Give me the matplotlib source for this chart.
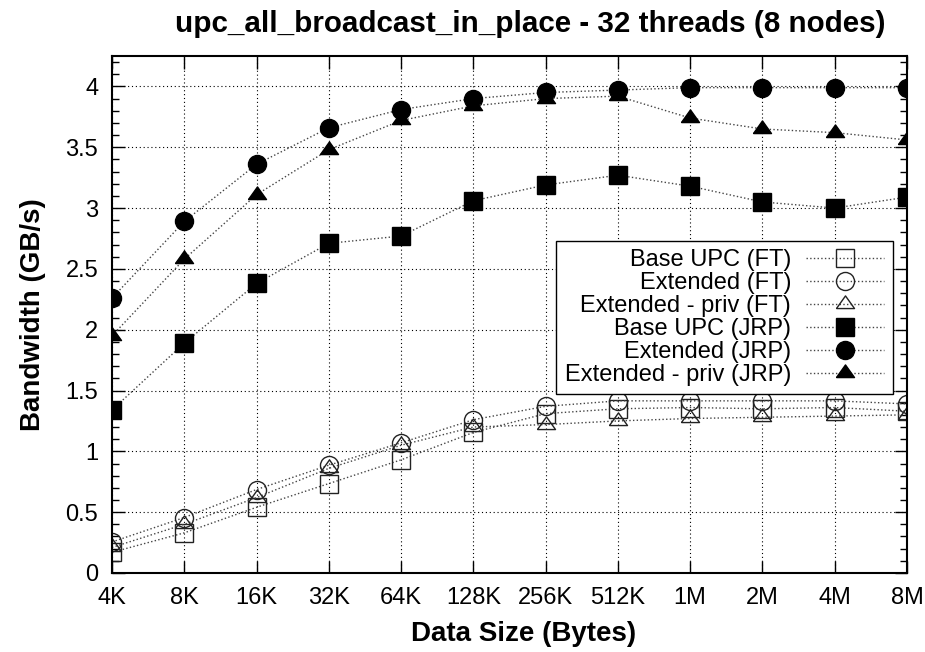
import matplotlib
matplotlib.use("Agg")
import matplotlib.pyplot as plt
import numpy as np
from matplotlib.ticker import MultipleLocator

plt.rcParams['font.family'] = ['Liberation Sans', 'DejaVu Sans']

sizes = ["4K", "8K", "16K", "32K", "64K", "128K", "256K", "512K", "1M", "2M", "4M", "8M"]

base_ft = [0.17, 0.33, 0.54, 0.735, 0.93, 1.155, 1.31, 1.35, 1.36, 1.35, 1.36, 1.33]
ext_ft = [0.255, 0.456, 0.686, 0.886, 1.07, 1.26, 1.37, 1.415, 1.415, 1.415, 1.415, 1.39]
priv_ft = [0.21, 0.40, 0.62, 0.86, 1.05, 1.20, 1.22, 1.25, 1.27, 1.28, 1.29, 1.30]

base_jrp = [1.34, 1.89, 2.38, 2.71, 2.77, 3.06, 3.19, 3.27, 3.18, 3.05, 3.00, 3.09]
ext_jrp = [2.26, 2.89, 3.36, 3.66, 3.81, 3.90, 3.95, 3.97, 3.99, 3.99, 3.99, 3.99]
priv_jrp = [1.95, 2.58, 3.11, 3.48, 3.72, 3.84, 3.90, 3.92, 3.74, 3.65, 3.62, 3.56]

labels = ["Base UPC (FT)", "Extended (FT)", "Extended - priv (FT)",
          "Base UPC (JRP)", "Extended (JRP)", "Extended - priv (JRP)"]

x = np.arange(len(sizes))

# flat, wide triangle marker (centred on the data point)
tri = [(-1, -0.45), (1, -0.45), (0, 0.95), (-1, -0.45)]

fig = plt.figure(figsize=(9.25, 6.52), dpi=100)
ax = fig.add_axes([0.1211, 0.1212, 0.8594, 0.7929])

line_kw = dict(linestyle=':', linewidth=1.0, color='#444444')
open_kw = dict(markerfacecolor='none', markeredgecolor='#222222', markeredgewidth=1.0)
fill_kw = dict(markerfacecolor='black', markeredgecolor='black', markeredgewidth=1.0)

ax.plot(x, base_ft, marker='s', markersize=13, label=labels[0], **open_kw, **line_kw)
ax.plot(x, ext_ft, marker='o', markersize=13, label=labels[1], **open_kw, **line_kw)
ax.plot(x, priv_ft, marker=tri, markersize=13, label=labels[2], **open_kw, **line_kw)
ax.plot(x, base_jrp, marker='s', markersize=13, label=labels[3], **fill_kw, **line_kw)
ax.plot(x, ext_jrp, marker='o', markersize=13, label=labels[4], **fill_kw, **line_kw)
ax.plot(x, priv_jrp, marker=tri, markersize=13, label=labels[5], **fill_kw, **line_kw)

ax.set_xlim(0, len(sizes) - 1)
ax.set_ylim(0, 4.25)
ax.set_xticks(x)
ax.set_xticklabels(sizes)
ax.yaxis.set_minor_locator(MultipleLocator(0.1))
yt = np.arange(0, 4.01, 0.5)
ax.set_yticks(yt)
ax.set_yticklabels([f"{v:g}" for v in yt])

ax.tick_params(axis='both', which='both', direction='in', top=True, right=True,
               labelsize=17)
ax.tick_params(axis='x', which='major', pad=10)
ax.tick_params(axis='y', which='major', pad=10)
ax.tick_params(axis='both', which='major', length=9, width=1)
ax.tick_params(axis='y', which='minor', length=5, width=1)
ax.tick_params(axis='x', which='minor', length=0)

ax.grid(True, which='major', linestyle=(0, (1, 2.5)), color='black', linewidth=0.8)
for s in ax.spines.values():
    s.set_linewidth(1.5)

ax.set_xlabel("Data Size (Bytes)", fontsize=20, fontweight='bold', labelpad=9, x=0.518)
ax.set_ylabel("Bandwidth (GB/s)", fontsize=20, fontweight='bold', labelpad=14)
ax.set_title("upc_all_broadcast_in_place - 32 threads (8 nodes)",
             fontsize=21.3, fontweight='bold', pad=17, x=0.526)

leg = ax.legend(loc='upper right', bbox_to_anchor=(0.982, 0.642), markerfirst=False,
                fontsize=17, handlelength=3.3, handletextpad=0.65, labelspacing=0.04,
                borderpad=0.35, borderaxespad=0, fancybox=False, framealpha=1,
                edgecolor='black')
leg.get_frame().set_linewidth(1.0)

fig.savefig("out.png", dpi=100)
